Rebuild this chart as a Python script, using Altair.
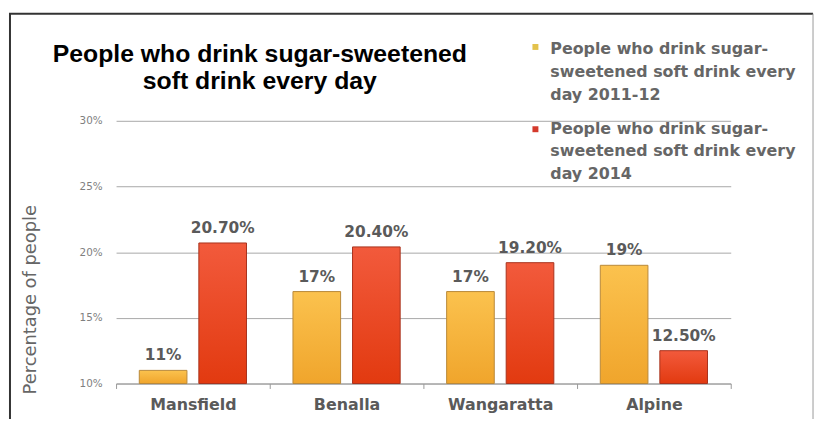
import altair as alt
import pandas as pd

# ---- data ----
regions = ["Mansfield", "Benalla", "Wangaratta", "Alpine"]
values_2011 = [11, 17, 17, 19]
values_2014 = [20.7, 20.4, 19.2, 12.5]
labels_2011 = ["11%", "17%", "17%", "19%"]
labels_2014 = ["20.70%", "20.40%", "19.20%", "12.50%"]
series_names = ["2011-12", "2014"]
legend_labels = [
    "People who drink sugar-\nsweetened soft drink every\nday 2011-12",
    "People who drink sugar-\nsweetened soft drink every\nday 2014",
]
title_text = "People who drink sugar-sweetened\nsoft drink every day"
y_ticks = [10, 15, 20, 25, 30]
y_title = "Percentage of people"

rows = []
for r, a, b, la, lb in zip(regions, values_2011, values_2014, labels_2011, labels_2014):
    rows.append({"region": r, "series": series_names[0], "value": a, "label": la})
    rows.append({"region": r, "series": series_names[1], "value": b, "label": lb})
df = pd.DataFrame(rows)
leg_df = pd.DataFrame({"series": series_names, "label": legend_labels})
title_df = pd.DataFrame({"title": [title_text]})
one = pd.DataFrame({"k": [0]})

grad_yellow = alt.Gradient(
    gradient="linear", x1=0, y1=0, x2=0, y2=1,
    stops=[alt.GradientStop(offset=0, color="#fbc24e"),
           alt.GradientStop(offset=1, color="#f0a52c")],
)
grad_red = alt.Gradient(
    gradient="linear", x1=0, y1=0, x2=0, y2=1,
    stops=[alt.GradientStop(offset=0, color="#f25a3c"),
           alt.GradientStop(offset=1, color="#e23a10")],
)

x = alt.X(
    "region:N", sort=regions, title=None,
    scale=alt.Scale(paddingInner=0, paddingOuter=0),
    axis=alt.Axis(labelAngle=0, labelFont="DejaVu Sans", labelFontWeight="bold",
                  labelFontSize=16, labelColor="#5a5a5a", labelPadding=8,
                  domainColor="#9a9a9a", tickColor="#9a9a9a", tickSize=5,
                  tickBand="extent", grid=False),
)
xo = alt.XOffset("series:N", scale=alt.Scale(domain=series_names, paddingInner=0.2, paddingOuter=0.39))
y = alt.Y(
    "value:Q",
    scale=alt.Scale(domain=[10, 30], zero=False, nice=False),
    axis=alt.Axis(values=y_ticks, labelExpr="datum.value + '%'", title=y_title,
                  grid=True, gridColor="#a8a8a8", gridWidth=1, domain=False,
                  ticks=False, tickSize=0, labelPadding=14, labelFontSize=10.5,
                  labelColor="#7f7f7f", labelFont="DejaVu Sans",
                  titleFont="DejaVu Sans", titleFontSize=18, titleFontWeight="normal",
                  titleColor="#666666", titleAngle=270, titleX=-86, titleY=180,
                  titleAlign="center", titleBaseline="middle"),
)

base = alt.Chart(df).encode(x=x, xOffset=xo, y=y)

bars_a = base.transform_filter(alt.datum.series == series_names[0]).mark_bar(
    fill=grad_yellow, stroke="#b8893a", strokeWidth=1
).encode(y2=alt.datum(10))
bars_b = base.transform_filter(alt.datum.series == series_names[1]).mark_bar(
    fill=grad_red, stroke="#a8321c", strokeWidth=1
).encode(y2=alt.datum(10))

labels = base.mark_text(
    font="DejaVu Sans", fontWeight="bold", fontSize=15.5, color="#5a5a5a",
    baseline="alphabetic", dy=-10
).encode(text="label:N")

title_mark = alt.Chart(title_df).mark_text(
    align="center", baseline="alphabetic", lineBreak="\n", lineHeight=27,
    font="Liberation Sans", fontWeight="bold", fontSize=25, color="black"
).encode(x=alt.value(145), y=alt.value(-59), text="title:N")

legend_layers = []
for s, col, ty, sy in [(series_names[0], "#e3c24c", -67, -74.5), (series_names[1], "#d43a2c", 13, 8.5)]:
    src = alt.Chart(leg_df).transform_filter(alt.datum.series == s)
    legend_layers.append(
        src.mark_square(size=36, opacity=1).encode(x=alt.value(423), y=alt.value(sy), color=alt.value(col))
    )
    legend_layers.append(
        src.mark_text(align="left", baseline="alphabetic", lineBreak="\n", lineHeight=23,
                      font="DejaVu Sans", fontWeight="bold", fontSize=16, color="#666666")
        .encode(x=alt.value(438), y=alt.value(ty), text="label:N")
    )

frame_left = alt.Chart(one).mark_rule(color="#333333", strokeWidth=2).encode(
    x=alt.value(-107), y=alt.value(-108), y2=alt.value(340))
frame_top = alt.Chart(one).mark_rule(color="#333333", strokeWidth=2).encode(
    x=alt.value(-108), x2=alt.value(703), y=alt.value(-108))
frame_right = alt.Chart(one).mark_rule(color="#9a9a9a", strokeWidth=1).encode(
    x=alt.value(703), y=alt.value(-108), y2=alt.value(340))

chart = alt.layer(
    bars_a, bars_b, labels, title_mark, *legend_layers, frame_left, frame_top, frame_right
).properties(
    width=620, height=265,
    autosize=alt.AutoSizeParams(type="none"),
    padding={"left": 109, "top": 112, "right": 85, "bottom": 34},
    background="white",
).configure_view(stroke=None)

chart.save("out.html", embed_options={"renderer": "svg", "actions": False})
